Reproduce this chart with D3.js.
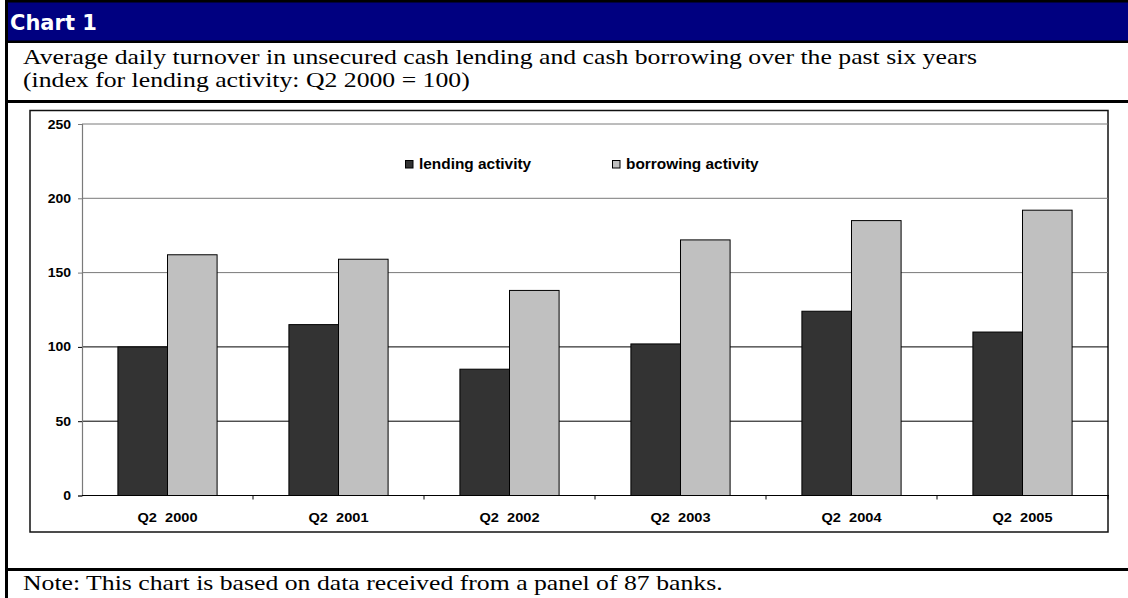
<!DOCTYPE html>
<html>
<head>
<meta charset="utf-8">
<script src="https://cdn.jsdelivr.net/npm/d3@7"></script>
<style>
  html, body { margin: 0; padding: 0; background: #fff; }
  svg { display: block; }
</style>
</head>
<body>
<svg id="chart" width="1128" height="598"></svg>
<script>
// Quarterly index values (lending activity Q2 2000 = 100)
const categories = ["Q2  2000", "Q2  2001", "Q2  2002", "Q2  2003", "Q2  2004", "Q2  2005"];
const lending = [100, 115, 85, 102, 124, 110];
const borrowing = [162, 159, 138, 172, 185, 192];
const seriesNames = ["lending activity", "borrowing activity"];
const yTicks = [0, 50, 100, 150, 200, 250];

const headerText = "Chart 1";
const subtitleLines = [
  "Average daily turnover in unsecured cash lending and cash borrowing over the past six years",
  "(index for lending activity: Q2 2000 = 100)"
];
const noteText = "Note: This chart is based on data received from a panel of 87 banks.";

const W = 1128, H = 598;
const svg = d3.select("#chart");
const SANS = "'Liberation Sans', Arial, sans-serif";
const SERIF = "'Liberation Serif', 'Times New Roman', serif";
const colors = ["#333333", "#c0c0c0"];

// widen glyphs horizontally by factor k
function stretch(sel, k) {
  sel.each(function () {
    const w = this.getComputedTextLength();
    this.setAttribute("textLength", w * k);
    this.setAttribute("lengthAdjust", "spacingAndGlyphs");
  });
}

// ---- page frame ----
svg.append("rect").attr("x", 0).attr("y", 0).attr("width", W).attr("height", H).attr("fill", "#fff");
// header band
svg.append("rect").attr("x", 5).attr("y", 0).attr("width", W - 5).attr("height", 43).attr("fill", "#000");
svg.append("rect").attr("x", 8).attr("y", 2.5).attr("width", W - 8).attr("height", 38).attr("fill", "#000080");
svg.append("text")
  .attr("x", 10).attr("y", 30)
  .attr("font-family", "'DejaVu Sans', Verdana, sans-serif")
  .attr("font-weight", "bold").attr("font-size", 21)
  .attr("fill", "#fff")
  .text(headerText);
// left rule
svg.append("rect").attr("x", 5).attr("y", 0).attr("width", 3).attr("height", H).attr("fill", "#000");
// rule under subtitle and above note
svg.append("rect").attr("x", 5).attr("y", 100).attr("width", W - 5).attr("height", 3).attr("fill", "#000");
svg.append("rect").attr("x", 5).attr("y", 568).attr("width", W - 5).attr("height", 3).attr("fill", "#000");

// subtitle
const sub = svg.append("g").selectAll("text").data(subtitleLines).join("text")
  .attr("x", 23).attr("y", (d, i) => 64 + i * 22.5)
  .attr("font-family", SERIF).attr("font-size", 21).attr("fill", "#000")
  .text(d => d);
stretch(sub, 1.225);

const note = svg.append("text")
  .attr("x", 23).attr("y", 590)
  .attr("font-family", SERIF).attr("font-size", 21).attr("fill", "#000")
  .text(noteText);
stretch(note, 1.225);

// ---- chart box ----
svg.append("rect")
  .attr("x", 30).attr("y", 110.5).attr("width", 1078).attr("height", 421.5)
  .attr("fill", "#fff").attr("stroke", "#111").attr("stroke-width", 1.5);

const plot = { left: 82, right: 1108, top: 124, bottom: 495.5 };

const x = d3.scaleBand().domain(categories).range([plot.left, plot.right]).padding(0);
const y = d3.scaleLinear().domain([0, 250]).range([plot.bottom, plot.top]);
const gridColor = v => (v >= 150 ? "#7a7a7a" : "#000");

// gridlines
svg.append("g").selectAll("line").data(yTicks.filter(v => v > 0)).join("line")
  .attr("x1", plot.left).attr("x2", plot.right)
  .attr("y1", d => y(d)).attr("y2", d => y(d))
  .attr("stroke", gridColor).attr("stroke-width", 1);

// y axis
const yAxis = svg.append("g")
  .attr("transform", `translate(${plot.left},0)`)
  .call(d3.axisLeft(y).tickValues(yTicks).tickSize(4).tickPadding(7).tickFormat(d3.format("d")));
yAxis.select(".domain").attr("stroke", "#7a7a7a").attr("stroke-width", 1.2);
yAxis.selectAll(".tick line").attr("stroke", d => gridColor(d));
const yLabels = yAxis.selectAll(".tick text")
  .attr("font-family", SANS).attr("font-weight", "bold").attr("font-size", 12.5).attr("fill", "#000");
stretch(yLabels, 1.12);

// bars
const barW = x.bandwidth() * 0.29;
const groups = svg.append("g").selectAll("g").data(categories).join("g")
  .attr("transform", d => `translate(${x(d) + x.bandwidth() / 2 - barW},0)`);
[lending, borrowing].forEach((vals, s) => {
  groups.append("rect")
    .attr("x", s * barW)
    .attr("y", (d, i) => y(vals[i]))
    .attr("width", barW)
    .attr("height", (d, i) => y(0) - y(vals[i]))
    .attr("fill", colors[s])
    .attr("stroke", "#000").attr("stroke-width", 1);
});

// x axis
svg.append("line")
  .attr("x1", plot.left).attr("x2", plot.right + 1)
  .attr("y1", plot.bottom).attr("y2", plot.bottom)
  .attr("stroke", "#000").attr("stroke-width", 1.2);
svg.append("g").selectAll("line").data(categories).join("line")
  .attr("x1", d => x(d) + x.step())
  .attr("x2", d => x(d) + x.step())
  .attr("y1", plot.bottom).attr("y2", plot.bottom + 4)
  .attr("stroke", "#000").attr("stroke-width", 1);
const xAxis = svg.append("g")
  .attr("transform", `translate(0,${plot.bottom})`)
  .call(d3.axisBottom(x).tickSize(0).tickPadding(17));
xAxis.select(".domain").remove();
const xLabels = xAxis.selectAll(".tick text")
  .attr("font-family", SANS).attr("font-weight", "bold").attr("font-size", 13.5).attr("fill", "#000")
  .attr("style", "white-space: pre");
stretch(xLabels, 1.08);

// legend
const legendX = [405, 612];
const legend = svg.append("g").selectAll("g").data(seriesNames).join("g")
  .attr("transform", (d, i) => `translate(${legendX[i]},160)`);
legend.append("rect")
  .attr("x", 0.5).attr("y", 0.5).attr("width", 7.5).attr("height", 7.5)
  .attr("fill", (d, i) => colors[i]).attr("stroke", "#000").attr("stroke-width", 1);
const legText = legend.append("text")
  .attr("x", 14).attr("y", 9)
  .attr("font-family", SANS).attr("font-weight", "bold").attr("font-size", 14).attr("fill", "#000")
  .text(d => d);
stretch(legText, 1.1);
</script>
</body>
</html>
